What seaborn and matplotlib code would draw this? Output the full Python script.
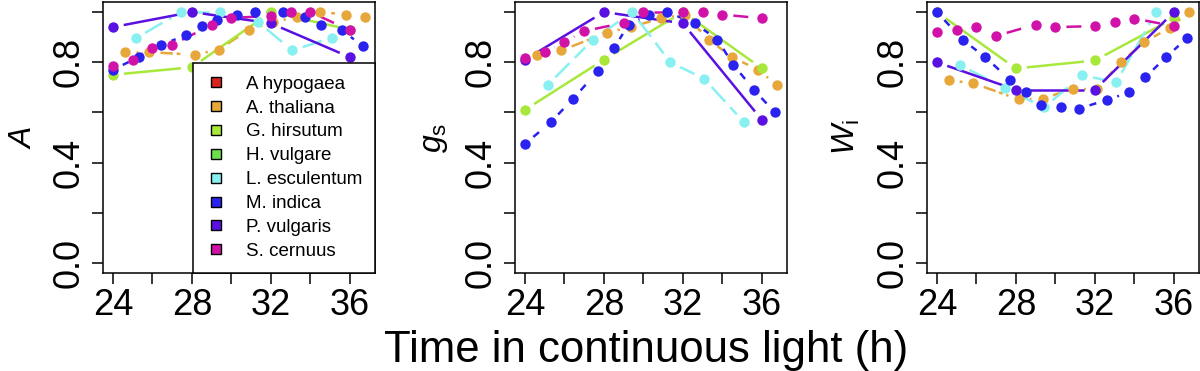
import numpy as np
import pandas as pd
import seaborn as sns
import matplotlib.pyplot as plt
from matplotlib.lines import Line2D

# %% species and colours (legend order = drawing order)
species = ['A hypogaea', 'A. thaliana', 'G. hirsutum', 'H. vulgare',
           'L. esculentum', 'M. indica', 'P. vulgaris', 'S. cernuus']
colors = ['#d8231f', '#e8a73a', '#a8e83a', '#6ee04c',
          '#88f0f0', '#2a22ee', '#5a10e0', '#d012a8']

# %% values: time (h), A, gs, Wi
t_thaliana = [24.6, 25.85, 28.15, 29.35, 30.9, 32.1, 33.3, 34.5, 35.8, 36.75]
A_thaliana = [0.84, 0.84, 0.83, 0.85, 0.93, 0.96, 0.98, 1.0, 0.99, 0.98]
gs_thaliana = [0.83, 0.847, 0.918, 0.94, 0.975, 0.99, 0.89, 0.82, 0.77, 0.71]
Wi_thaliana = [0.728, 0.716, 0.652, 0.655, 0.694, 0.692, 0.80, 0.88, 0.938, 1.0]

t_hirsutum = [24, 28, 32, 36]
A_hirsutum = [0.75, 0.78, 1.0, 0.93]
gs_hirsutum = [0.61, 0.81, 1.0, 0.775]
Wi_hirsutum = [1.0, 0.775, 0.807, 0.975]

t_esculentum = [25.15, 27.45, 29.43, 31.36, 33.08, 35.1]
A_esculentum = [0.895, 1.0, 1.0, 0.96, 0.847, 0.898]
gs_esculentum = [0.709, 0.89, 1.0, 0.80, 0.734, 0.56]
Wi_esculentum = [0.79, 0.696, 0.62, 0.748, 0.72, 1.0]

t_indica = [24, 25.3, 26.45, 27.7, 28.5, 29.25, 30.3, 31.2, 32.6, 33.75, 34.55, 35.6, 36.65]
A_indica = [0.77, 0.82, 0.87, 0.907, 0.944, 0.97, 0.99, 1.0, 1.0, 0.98, 0.948, 0.927, 0.865]
gs_indica = [0.474, 0.56, 0.655, 0.765, 0.855, 0.95, 0.99, 1.0, 0.955, 0.89, 0.79, 0.69, 0.60]
Wi_indica = [1.0, 0.89, 0.82, 0.73, 0.68, 0.63, 0.62, 0.615, 0.65, 0.68, 0.74, 0.82, 0.895]

t_vulgaris = [24, 28, 32, 36]
A_vulgaris = [0.94, 1.0, 0.955, 0.82]
gs_vulgaris = [0.81, 1.0, 0.955, 0.57]
Wi_vulgaris = [0.80, 0.69, 0.69, 1.0]

t_cernuus = [24, 25, 26, 27, 29, 30, 32, 33, 34, 36]
A_cernuus = [0.785, 0.81, 0.858, 0.87, 0.948, 0.977, 0.984, 1.0, 1.0, 0.927]
gs_cernuus = [0.815, 0.84, 0.88, 0.924, 0.957, 1.0, 1.0, 1.0, 0.99, 0.975]
Wi_cernuus = [0.92, 0.93, 0.94, 0.905, 0.95, 0.94, 0.944, 0.96, 0.974, 0.944]

series = [
    ('A. thaliana', t_thaliana, A_thaliana, gs_thaliana, Wi_thaliana, (0, (5, 1.5, 1.5, 1.5))),
    ('G. hirsutum', t_hirsutum, A_hirsutum, gs_hirsutum, Wi_hirsutum, '-'),
    ('L. esculentum', t_esculentum, A_esculentum, gs_esculentum, Wi_esculentum, (0, (8, 3))),
    ('M. indica', t_indica, A_indica, gs_indica, Wi_indica, (0, (3, 3))),
    ('P. vulgaris', t_vulgaris, A_vulgaris, gs_vulgaris, Wi_vulgaris, '-'),
    ('S. cernuus', t_cernuus, A_cernuus, gs_cernuus, Wi_cernuus, (0, (6, 3))),
]
pal = dict(zip(species, colors))
ylabels = ['$A$', '$g_\\mathrm{s}$', '$W_\\mathrm{i}$']

# %% style
sns.set_style('ticks')
plt.rcParams['font.family'] = ['Liberation Sans', 'DejaVu Sans']
plt.rcParams['mathtext.fontset'] = 'custom'
plt.rcParams['mathtext.it'] = 'Liberation Sans:italic'
plt.rcParams['mathtext.rm'] = 'Liberation Sans'
plt.rcParams['text.color'] = 'black'
plt.rcParams['axes.labelcolor'] = 'black'


def gapped(ax, x, y, gap=11):
    # type="b" style: segments stop short of the points
    pts = ax.transData.transform(np.column_stack([x, y]))
    inv = ax.transData.inverted()
    segs = []
    for p0, p1 in zip(pts[:-1], pts[1:]):
        d = np.hypot(*(p1 - p0))
        if d <= 2 * gap:
            continue
        u = (p1 - p0) / d
        segs.append(inv.transform(np.array([p0 + u * gap, p1 - u * gap])))
    return segs


fig = plt.figure(figsize=(12, 3.71), dpi=100)
lefts = [103, 515, 927]
axes = []
for k, left in enumerate(lefts):
    ax = fig.add_axes([left / 1200, 98 / 371, 272 / 1200, 271 / 371])
    ax.set_xlim(23.5, 37.27)
    ax.set_ylim(-0.04, 1.04)
    for name, t, a, g, w, ls in series:
        y = [a, g, w][k]
        for seg in gapped(ax, t, y):
            ax.plot(seg[:, 0], seg[:, 1], color=pal[name], lw=1.8, ls=ls,
                    solid_capstyle='butt', dash_capstyle='butt')
        sns.scatterplot(x=t, y=y, ax=ax, color=pal[name], s=56, linewidth=0,
                        zorder=3, legend=False)
    ax.set_xticks(np.arange(24, 37, 2))
    ax.set_xticklabels(['24', '', '28', '', '32', '', '36'])
    ax.set_yticks(np.arange(0, 1.01, 0.2))
    ax.set_yticklabels(['0.0', '', '0.4', '', '0.8', ''], rotation=90, va='center')
    ax.tick_params(axis='both', direction='out', length=8, width=1.1,
                   labelsize=26, color='black', labelcolor='black')
    ax.tick_params(axis='x', pad=3)
    ax.tick_params(axis='y', pad=4)
    for sp in ax.spines.values():
        sp.set_linewidth(1.1)
        sp.set_color('black')
    ax.set_ylabel(ylabels[k], fontsize=23, va='center', color='black')
    ax.yaxis.set_label_coords(-0.295, 0.5)
    axes.append(ax)

handles = [Line2D([], [], ls='', marker='s', markersize=7.5, markerfacecolor=c,
                  markeredgecolor='black', markeredgewidth=1.0) for c in colors]
leg = axes[0].legend(handles, species, loc='lower right', bbox_to_anchor=(1, 0),
                     borderaxespad=0, fontsize=13.5, frameon=True, fancybox=False,
                     handlelength=1.0, handletextpad=1.1, labelspacing=0.36,
                     borderpad=0.7)
leg.get_frame().set_edgecolor('black')
leg.get_frame().set_linewidth(1.1)
leg.get_frame().set_alpha(1)
leg.set_zorder(10)
for txt in leg.get_texts():
    txt.set_color('black')

fig.text(646 / 1200, 9 / 371, 'Time in continuous light (h)', fontsize=31.5,
         ha='center', va='baseline', color='black')

plt.savefig('out.png', dpi=100)
